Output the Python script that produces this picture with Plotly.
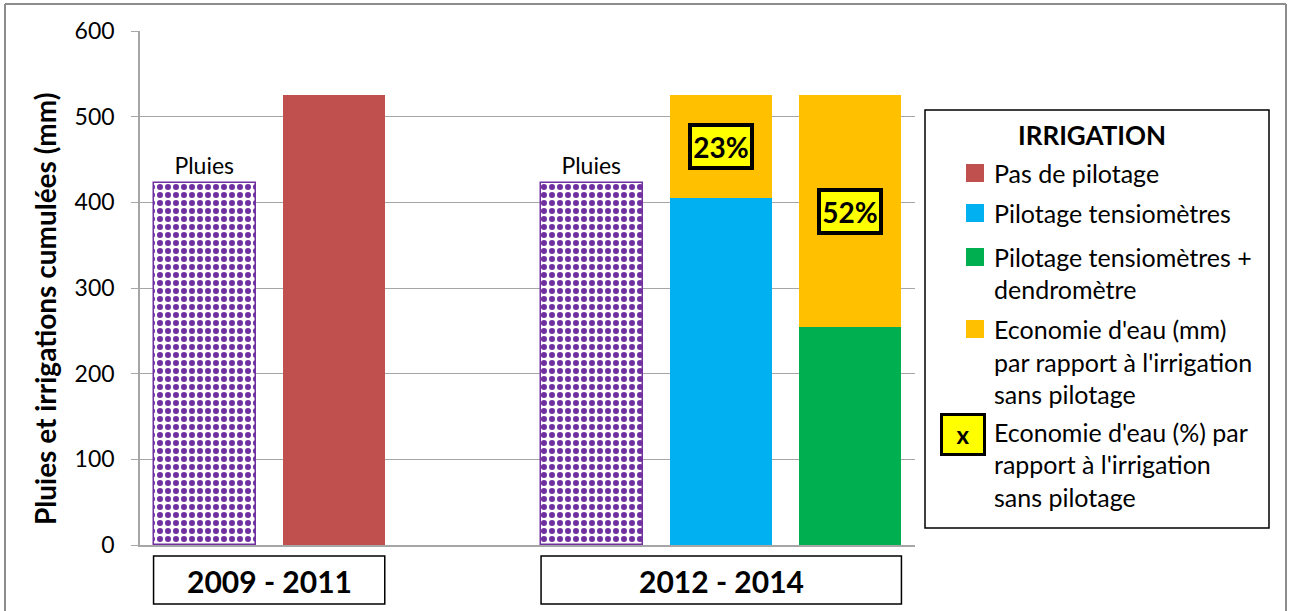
import plotly.graph_objects as go

# Bar positions on a numeric axis (gap between the two periods)
positions = [0, 1, 3, 4, 5]
periods = ["2009 - 2011", "2012 - 2014"]

# Values (mm)
pluies = [422, 423]            # rainfall for each period
pas_pilotage = 525             # irrigation without scheduling (2009-2011)
tensiometres = 405             # tensiometer scheduling (2012-2014)
tensio_dendro = 254            # tensiometers + dendrometer (2012-2014)
reference_irrigation = 525     # reference used for water savings

FONT = "Lato"
PURPLE = "#7030A0"
RED = "#C0504D"
BLUE = "#00B0F0"
GREEN = "#00B050"
ORANGE = "#FFC000"
GRID = "#a6a6a6"

W, H = 1293, 611
PL, PR, PT, PB = 140, 915, 31, 545   # plot area in pixels
BAR_W = 0.79

fig = go.Figure()

# Rainfall bars (dotted pattern)
fig.add_trace(go.Bar(
    x=[positions[0], positions[2]], y=pluies, width=BAR_W,
    marker=dict(color="white", line=dict(color=PURPLE, width=1.5),
                pattern=dict(shape=".", fgcolor=PURPLE, fgopacity=1,
                             bgcolor="white", size=8, solidity=0.45,
                             fillmode="overlay")),
    text=["Pluies", "Pluies"], textposition="outside",
    textfont=dict(family=FONT, size=23, color="black"),
    cliponaxis=False, showlegend=False, hoverinfo="y"))

fig.add_trace(go.Bar(x=[positions[1]], y=[pas_pilotage], width=BAR_W,
                     marker=dict(color=RED, line=dict(width=0)),
                     showlegend=False))

# Scheduled irrigation + savings stacked on top
savings = [reference_irrigation - tensiometres, reference_irrigation - tensio_dendro]
fig.add_trace(go.Bar(x=[positions[3], positions[4]], y=[tensiometres, tensio_dendro],
                     width=BAR_W, marker=dict(color=[BLUE, GREEN], line=dict(width=0)),
                     showlegend=False))
fig.add_trace(go.Bar(x=[positions[3], positions[4]], y=savings,
                     base=[tensiometres, tensio_dendro], width=BAR_W,
                     marker=dict(color=ORANGE, line=dict(width=0)),
                     showlegend=False))

# Percent savings labels centred in the orange segments
for xpos, base, sav in zip([positions[3], positions[4]], [tensiometres, tensio_dendro], savings):
    pct = round(sav / reference_irrigation * 100)
    fig.add_annotation(x=xpos, y=base + sav / 2, xref="x", yref="y",
                       text=f"<b>{pct}%</b>", showarrow=False,
                       font=dict(family=FONT, size=28, color="black"),
                       bgcolor="#FFFF00", bordercolor="black", borderwidth=4,
                       borderpad=0, width=58, height=39)


def px(x):
    return (x - PL) / (PR - PL)


def py(y):
    return (PB - y) / (PB - PT)


# Y axis title
fig.add_annotation(x=px(45), y=py(309), xref="paper", yref="paper",
                   text="<b>Pluies et irrigations cumulées (mm)</b>",
                   textangle=-90, showarrow=False, xanchor="center", yanchor="middle",
                   font=dict(family=FONT, size=28, color="black"))

# Period boxes under the axis, spanning the bars of each period
period_spans = [(positions[0] - BAR_W / 2, positions[1] + BAR_W / 2),
                (positions[2] - BAR_W / 2, positions[4] + BAR_W / 2)]
for (x0, x1), label in zip(period_spans, periods):
    fig.add_shape(type="rect", xref="x", yref="paper", x0=x0, x1=x1,
                  y0=py(604), y1=py(556),
                  line=dict(color="black", width=1.5), fillcolor="white")
    fig.add_annotation(x=(x0 + x1) / 2, y=py(581), xref="x", yref="paper",
                       text=f"<b>{label}</b>", showarrow=False, yanchor="middle",
                       font=dict(family=FONT, size=30, color="black"))

# Hand-built legend box
LEG_SIZE = 25
fig.add_shape(type="rect", xref="paper", yref="paper",
              x0=px(925), x1=px(1269), y0=py(528), y1=py(110),
              line=dict(color="black", width=1.5), fillcolor="white")
fig.add_annotation(x=px(1092), y=py(135), xref="paper", yref="paper",
                   text="<b>IRRIGATION</b>", showarrow=False,
                   xanchor="center", yanchor="middle",
                   font=dict(family=FONT, size=26, color="black"))

legend_items = [
    (RED, ["Pas de pilotage"], [173]),
    (BLUE, ["Pilotage tensiomètres"], [213]),
    (GREEN, ["Pilotage tensiomètres +", "dendromètre"], [257, 289]),
    (ORANGE, ["Economie d'eau (mm)", "par rapport à l'irrigation", "sans pilotage"],
     [329, 362, 394]),
]
for color, lines, ys in legend_items:
    fig.add_shape(type="rect", xref="paper", yref="paper",
                  x0=px(966), x1=px(984), y0=py(ys[0] + 9), y1=py(ys[0] - 9),
                  line=dict(width=0), fillcolor=color)
    for line, yc in zip(lines, ys):
        fig.add_annotation(x=px(992), y=py(yc), xref="paper", yref="paper",
                           text=line, showarrow=False, xanchor="left",
                           yanchor="middle",
                           font=dict(family=FONT, size=LEG_SIZE, color="black"))

fig.add_annotation(x=px(963), y=py(434), xref="paper", yref="paper",
                   text="<b>x</b>", showarrow=False,
                   xanchor="center", yanchor="middle",
                   font=dict(family=FONT, size=24, color="black"),
                   bgcolor="#FFFF00", bordercolor="black", borderwidth=3,
                   borderpad=0, width=40, height=37)
for line, yc in zip(["Economie d'eau (%) par", "rapport à l'irrigation", "sans pilotage"],
                    [432, 464, 497]):
    fig.add_annotation(x=px(992), y=py(yc), xref="paper", yref="paper",
                       text=line, showarrow=False, xanchor="left", yanchor="middle",
                       font=dict(family=FONT, size=LEG_SIZE, color="black"))

# Outer frame (top, left, right)
for (x0, y0, x1, y1) in [(5, 4, 1286, 4), (5, 4, 5, 611), (1286, 4, 1286, 611)]:
    fig.add_shape(type="line", xref="paper", yref="paper",
                  x0=px(x0), y0=py(y0), x1=px(x1), y1=py(y1),
                  line=dict(color="#8c8c8c", width=2))

fig.update_layout(
    width=W, height=H,
    margin=dict(l=PL, r=W - PR, t=PT, b=H - PB),
    paper_bgcolor="white", plot_bgcolor="white",
    barmode="overlay", bargap=0,
    font=dict(family=FONT, color="black"),
    xaxis=dict(range=[-0.5, 5.5], showticklabels=False, showgrid=False,
               zeroline=False, showline=True, linecolor=GRID, linewidth=1.5,
               ticks=""),
    yaxis=dict(range=[0, 600], dtick=100, showgrid=True, gridcolor=GRID,
               gridwidth=1, zeroline=False, showline=True, linecolor=GRID,
               linewidth=1.5, ticks="outside", ticklen=7, tickcolor=GRID,
               ticklabelstandoff=12,
               tickfont=dict(family=FONT, size=23, color="black")),
)

fig.write_html("out.html")
